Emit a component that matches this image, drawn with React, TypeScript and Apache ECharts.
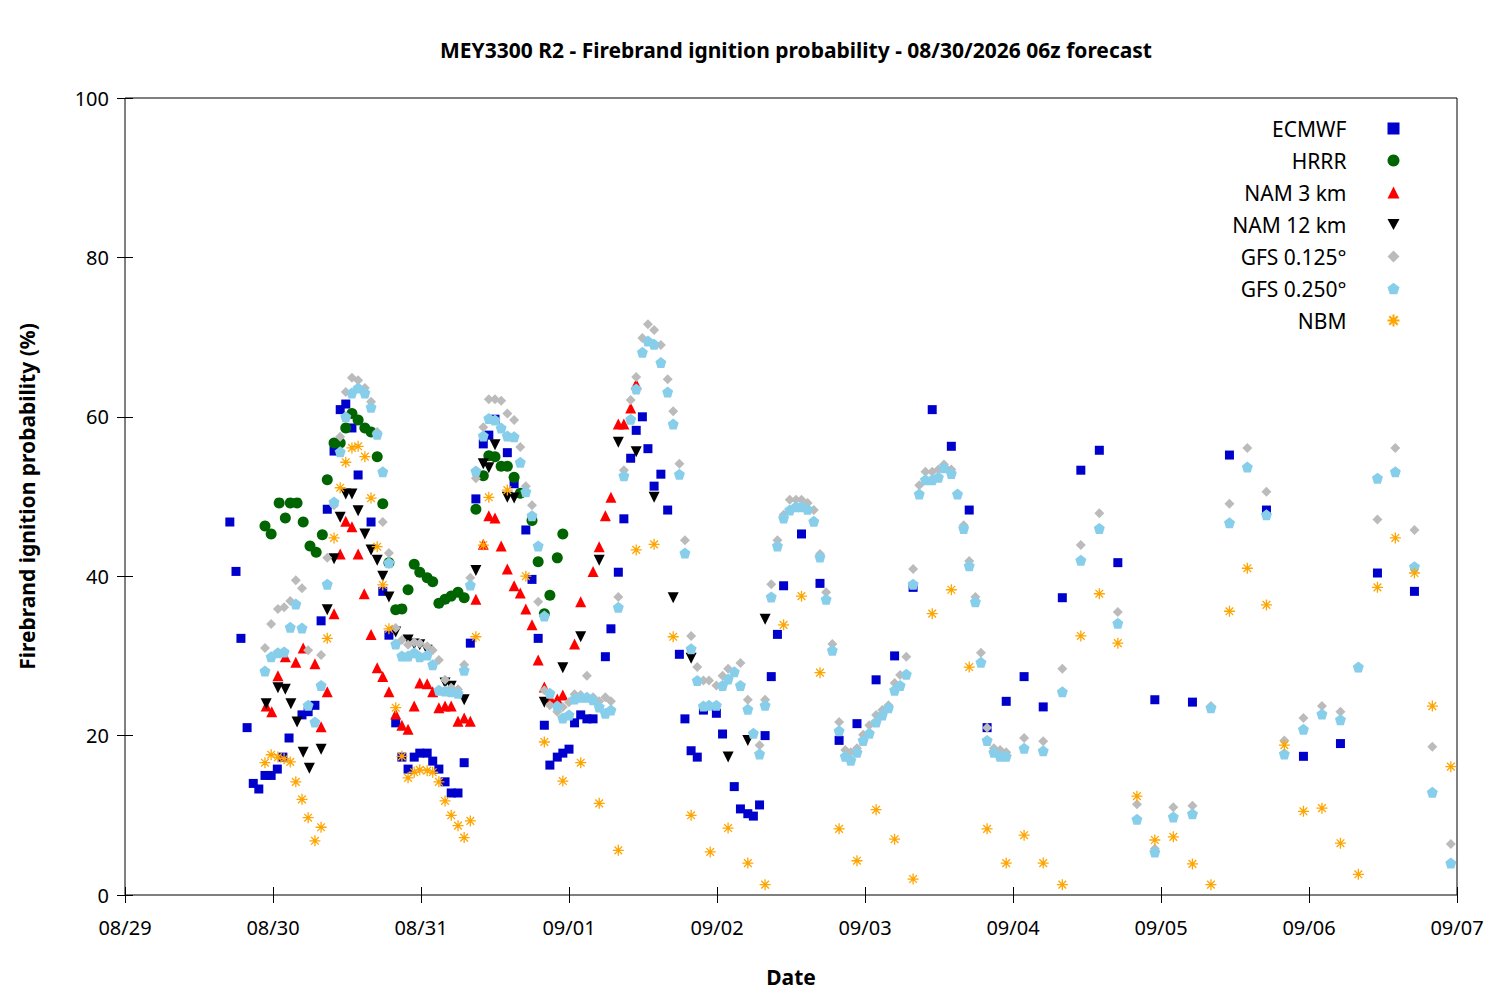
import React, { useEffect, useRef } from "react";
import * as echarts from "echarts";

// x = hours since 08/29 00z, y = probability (%)
const dateLabels = ["08/29", "08/30", "08/31", "09/01", "09/02", "09/03", "09/04", "09/05", "09/06", "09/07"];

const ecmwf = [[17,46.8],[18,40.6],[18.8,32.2],[19.8,21],[20.8,14],[21.7,13.3],[22.7,15],[23.7,15],[24.7,15.8],[25.6,17.3],[26.6,19.7],[28.7,22.6],[29.7,23],[30.8,23.8],[31.8,34.4],[32.8,48.4],[33.9,55.7],[34.9,60.9],[35.8,61.6],[36.8,58.6],[37.8,52.7],[39.9,46.8],[41.8,38.1],[42.8,32.6],[43.9,21.6],[44.9,17.3],[45.9,15.8],[46.9,17.3],[47.8,17.8],[49,17.8],[49.9,16.8],[50.9,15.8],[51.9,14.2],[52.9,12.8],[54,12.8],[55,16.6],[56,31.6],[56.9,49.7],[58.1,56.6],[59,57.7],[60,59.7],[62,55.5],[63.1,51.6],[65,45.8],[66,39.6],[67,32.2],[68,21.3],[68.9,16.3],[70.1,17.3],[71,17.8],[72,18.3],[72.9,21.6],[73.9,22.6],[74.9,22.1],[75.9,22.1],[77.9,29.9],[78.8,33.4],[80,40.5],[80.9,47.2],[82,54.8],[82.9,58.3],[83.9,60],[84.8,56],[85.8,51.3],[86.9,52.8],[88,48.3],[89.9,30.2],[90.8,22.1],[91.8,18.1],[92.8,17.3],[93.8,23.2],[95.9,22.8],[96.9,20.2],[98.8,13.6],[99.8,10.8],[101,10.2],[101.9,9.9],[102.9,11.3],[103.8,20],[104.8,27.4],[105.8,32.7],[106.8,38.8],[109.7,45.3],[112.7,39.1],[115.8,19.4],[118.7,21.5],[121.8,27],[124.8,30],[127.8,38.6],[130.9,60.9],[134,56.3],[136.9,48.3],[139.8,21],[142.9,24.3],[145.8,27.4],[148.9,23.6],[152,37.3],[155,53.3],[158,55.8],[161,41.7],[167,24.5],[173.1,24.2],[179.1,55.2],[185.1,48.3],[191.1,17.4],[197.1,19],[203.1,40.4],[209.1,38.1]];

const hrrr = [[22.7,46.3],[23.7,45.3],[25,49.2],[26,47.3],[26.8,49.2],[27.9,49.2],[28.9,46.8],[30,43.8],[31,43],[32,45.2],[32.8,52.1],[33.9,56.7],[34.9,56.7],[35.8,58.6],[36.8,60.4],[37.8,59.6],[38.9,58.6],[39.9,58.1],[40.9,55],[41.8,49.1],[42.8,41.7],[43.9,35.8],[44.9,35.9],[45.9,38.3],[46.9,41.5],[47.8,40.5],[49,39.8],[49.9,39.3],[50.9,36.6],[51.9,37.1],[52.9,37.5],[54,38],[55,37.3],[56.9,48.4],[58.1,52.6],[59,55.1],[60,55],[61,53.8],[62,53.8],[63.1,52.4],[64.1,50.4],[66,47],[67,41.8],[68,35.3],[68.9,37.6],[70.1,42.3],[71,45.3]];

const nam3 = [[22.9,23.7],[23.8,23],[24.8,27.5],[26,29.9],[27.7,29.2],[28.9,31],[30.8,29],[31.8,21.1],[32.8,25.5],[33.9,35.3],[34.9,42.8],[35.8,46.9],[36.8,46.2],[37.8,42.8],[38.8,37.8],[39.9,32.7],[40.9,28.5],[41.8,27.4],[42.8,25.5],[43.9,22.7],[44.9,21.3],[45.9,20.8],[46.9,23.7],[47.8,26.6],[49,26.5],[49.9,25.5],[50.9,23.5],[51.9,23.7],[52.9,23.7],[54,21.8],[55,22.2],[56,21.8],[56.9,37.1],[58.1,44],[59,47.6],[60,47.3],[61,43.8],[62,40.9],[63.1,38.8],[64.1,37.9],[65,35.9],[66,33.9],[67,29.5],[68,26.1],[68.9,24.8],[70.1,24.6],[71,25.1],[72.9,31.5],[73.9,36.8],[75.9,40.6],[76.9,43.7],[77.9,47.6],[78.8,49.9],[80,59.1],[80.9,59.1],[82,61.1],[82.9,64.1]];

const nam12 = [[22.9,24],[24.8,26],[26,25.8],[26.9,24],[27.9,21.7],[28.9,17.9],[29.9,15.9],[31.8,18.3],[32.8,35.8],[33.9,42.2],[34.9,47.4],[35.8,50.3],[36.8,50.3],[37.8,48.2],[38.9,45.3],[39.9,43.3],[40.9,42],[41.8,40],[42.8,37.4],[43.9,33],[45.9,32],[46.9,31.5],[47.8,31.4],[49,30.7],[51.9,26.6],[52.9,26.2],[55,24.5],[56.9,40.7],[58.1,54.1],[59,53.6],[60,56.5],[62,49.9],[63.1,49.8],[68,24.2],[71,28.5],[73.9,32.4],[76.9,42],[80,56.8],[82.9,55.6],[85.8,49.9],[88.9,37.3],[91.8,29.7],[97.8,17.3],[101,19.4],[103.8,34.6]];

const gfs125 = [[22.7,31],[23.7,34],[24.8,35.9],[25.8,36.1],[26.8,36.9],[27.7,39.5],[28.7,38.5],[29.7,30.7],[31.8,30.1],[32.8,42.3],[33.9,48.9],[34.9,57.5],[35.8,63.1],[36.8,64.9],[37.8,64.6],[38.9,63.6],[39.9,61.9],[40.9,58.1],[41.8,46.8],[42.8,42.9],[43.9,33.5],[44.9,32],[45.9,31.4],[46.9,31.7],[47.8,31.6],[49,31.2],[49.9,30.7],[50.9,29.5],[51.9,27],[52.9,26],[54,25.8],[55,28.9],[56,39.8],[56.9,52.3],[58.1,58.7],[59,62.2],[60,62.2],[61,62],[62,60.4],[63.1,59.6],[64.1,56.2],[65,51.3],[66,48.9],[67,36.8],[68,25.7],[68.9,23.8],[70.1,23],[71,23.6],[72,24.2],[72.9,25.2],[73.9,25.1],[74.9,27.5],[75.9,24.8],[76.9,24.3],[77.9,24.8],[78.8,24.3],[80,37.4],[80.9,53.3],[82,62.1],[82.9,65],[83.9,69.9],[84.8,71.6],[85.8,70.9],[86.9,69],[88,64.7],[88.9,60.7],[89.9,54.1],[90.8,44.5],[91.8,32.5],[92.8,28.6],[93.8,26.9],[94.7,26.9],[95.9,26.3],[96.9,27.5],[97.8,28.4],[99.8,29.1],[101,24.5],[102.9,18.8],[103.8,24.5],[104.8,39],[105.8,44.5],[106.8,47.7],[107.8,49.6],[108.8,49.6],[109.7,49.6],[110.7,49.2],[111.7,48.3],[112.7,42.8],[113.7,38],[114.7,31.5],[115.8,21.7],[116.8,18.2],[117.7,17.9],[118.7,18.4],[119.7,20.1],[120.7,21.3],[121.8,22.6],[122.8,23.2],[123.8,23.8],[124.8,26.6],[125.7,27.6],[126.7,29.9],[127.8,40.9],[128.8,51.4],[129.8,53.1],[130.9,53.1],[131.9,53.4],[132.8,54],[134,53.4],[135,50.3],[136,46.4],[136.9,41.9],[137.9,37.4],[138.8,30.4],[139.8,21],[140.9,18.4],[141.9,18.2],[142.9,17.9],[145.8,19.7],[148.9,19.3],[152,28.4],[155,43.9],[158,47.9],[161,35.5],[164.1,11.4],[167,5.8],[170,11],[173.1,11.2],[176.1,23.7],[179.1,49.1],[182,56.1],[185.1,50.6],[188,19.4],[191.1,22.2],[194.1,23.7],[197.1,23],[200,28.5],[203.1,47.1],[206,56.1],[209.1,45.8],[212,18.6],[215,6.4]];

const gfs250 = [[22.7,28.1],[23.7,29.9],[24.8,30.4],[25.8,30.5],[26.8,33.6],[27.7,36.5],[28.7,33.5],[29.7,23.8],[30.8,21.7],[31.8,26.3],[32.8,39],[33.9,49.3],[34.9,55.6],[35.8,60],[36.8,63],[37.8,63.6],[38.9,63],[39.9,61.2],[40.9,57.8],[41.8,53.1],[42.8,41.7],[43.9,31.5],[44.9,30],[45.9,30],[46.9,30.4],[47.8,29.9],[49,30.1],[49.9,28.9],[50.9,25.7],[51.9,25.6],[52.9,25.5],[54,25.3],[55,28.2],[56,38.9],[56.9,53.2],[58.1,57.6],[59,59.8],[60,59.6],[61,58.6],[62,57.6],[63.1,57.5],[64.1,54.3],[65,50.6],[66,47.6],[67,43.8],[68,35],[68.9,25.3],[70.1,23.7],[71,22.2],[72,22.6],[72.9,24.6],[73.9,24.8],[74.9,24.8],[75.9,24.5],[76.9,23.6],[77.9,22.8],[78.8,23.2],[80,36.1],[80.9,52.6],[82,59.7],[82.9,63.5],[83.9,68.1],[84.8,69.5],[85.8,69.1],[86.9,66.8],[88,63.1],[88.9,59.1],[89.9,52.8],[90.8,42.9],[91.8,30.9],[92.8,26.9],[93.8,23.7],[94.7,23.8],[95.9,23.8],[96.9,26.3],[97.8,27.1],[98.8,28],[99.8,26.3],[101,23.3],[101.9,20.3],[102.9,17.7],[103.8,23.8],[104.8,37.4],[105.8,43.8],[106.8,47.3],[107.8,48.3],[108.8,48.7],[109.7,48.7],[110.7,48.4],[111.7,46.9],[112.7,42.4],[113.7,37.1],[114.7,30.7],[115.8,20.6],[116.8,17.4],[117.7,16.9],[118.7,17.9],[119.7,19.4],[120.7,20.3],[121.8,21.7],[122.8,22.6],[123.8,23.5],[124.8,25.7],[125.7,26.3],[126.7,27.7],[127.8,39],[128.8,50.3],[129.8,52.1],[130.9,52.1],[131.9,52.4],[132.8,53.6],[134,52.9],[135,50.3],[136,46],[136.9,41.3],[137.9,36.8],[138.8,29.2],[139.8,19.4],[140.9,17.9],[141.9,17.4],[142.9,17.4],[145.8,18.4],[148.9,18.1],[152,25.5],[155,42],[158,46],[161,34.1],[164.1,9.5],[167,5.4],[170,9.8],[173.1,10.2],[176.1,23.5],[179.1,46.7],[182,53.7],[185.1,47.7],[188,17.7],[191.1,20.8],[194.1,22.7],[197.1,22],[200,28.6],[203.1,52.3],[206,53.1],[209.1,41.2],[212,12.9],[215,4]];

const nbm = [[22.7,16.6],[23.7,17.6],[24.8,17.3],[25.8,17.1],[26.8,16.7],[27.7,14.2],[28.7,12],[29.7,9.7],[30.8,6.8],[31.8,8.5],[32.8,32.2],[33.9,44.8],[34.9,51.1],[35.8,54.3],[36.8,56.1],[37.8,56.3],[38.9,55],[39.9,49.8],[40.9,43.7],[41.8,38.9],[42.8,33.4],[43.9,23.5],[44.9,17.4],[45.9,14.7],[46.9,15.4],[47.8,15.7],[49,15.6],[49.9,15.4],[50.9,14.2],[51.9,11.8],[52.9,10],[54,8.7],[55,7.2],[56,9.3],[56.9,32.4],[58.1,43.9],[59,49.9],[62,50.8],[65,40],[68,19.2],[71,14.3],[73.9,16.6],[76.9,11.5],[80,5.6],[82.9,43.3],[85.8,44],[88.9,32.4],[91.8,10],[94.9,5.4],[97.8,8.4],[101,4],[103.8,1.3],[106.8,33.9],[109.7,37.5],[112.7,27.9],[115.8,8.3],[118.7,4.3],[121.8,10.7],[124.8,7],[127.8,2],[130.9,35.3],[134,38.3],[136.9,28.6],[139.8,8.3],[142.9,4],[145.8,7.5],[148.9,4],[152,1.3],[155,32.5],[158,37.8],[161,31.6],[164.1,12.4],[167,6.9],[170,7.3],[173.1,3.9],[176.1,1.3],[179.1,35.6],[182,41],[185.1,36.4],[188,18.8],[191.1,10.5],[194.1,10.9],[197.1,6.5],[200,2.6],[203.1,38.6],[206,44.8],[209.1,40.4],[212,23.7],[215,16.1]];

const FONT = "Noto Sans";
const DOWN = "path://M-5,-4L5,-4L0,5Z";
const PENT = "path://M0,-5L4.76,-1.55L2.94,4.05L-2.94,4.05L-4.76,-1.55Z";
const STAR = "path://M0,-5L0,5M-5,0L5,0M-3.5,-3.5L3.5,3.5M-3.5,3.5L3.5,-3.5";

export default function App() {
  const ref = useRef<HTMLDivElement>(null);
  useEffect(() => {
    const chart = echarts.init(ref.current!, null, { renderer: "svg" });
    const mk = (name: string, data: number[][], symbol: string, size: number, color: string, extra: any = {}) => ({
      name, type: "scatter", data, symbol, symbolSize: size,
      itemStyle: { color, opacity: 1, ...extra }, emphasis: { disabled: true },
    });
    const hiddenAxis = () => ({
      axisLabel: { show: false }, splitLine: { show: false },
      axisLine: { show: false }, axisTick: { inside: true, length: 8, lineStyle: { color: "#000" } },
    });
    chart.setOption({
      animation: false,
      textStyle: { fontFamily: FONT },
      title: {
        text: "MEY3300 R2 - Firebrand ignition probability - 08/30/2026 06z forecast",
        left: 783, top: 26, textAlign: "center",
        textStyle: { fontFamily: FONT, fontSize: 21, fontWeight: "bold", color: "#000" },
      },
      grid: { left: 117, right: 35, top: 90, bottom: 97, show: true, borderColor: "#000", borderWidth: 1 },
      legend: {
        orient: "vertical", right: 85, top: 105, align: "right", itemGap: 11, itemWidth: 12, itemHeight: 12,
        textStyle: { fontFamily: FONT, fontSize: 21, color: "#000", padding: [0, 36, 0, 0] },
        data: ["ECMWF", "HRRR", "NAM 3 km", "NAM 12 km", "GFS 0.125°", "GFS 0.250°", "NBM"],
      },
      xAxis: [
        {
          type: "value", min: 0, max: 216, interval: 24,
          name: "Date", nameLocation: "middle", nameGap: 71,
          nameTextStyle: { fontFamily: FONT, fontSize: 21, fontWeight: "bold", color: "#000" },
          axisLabel: { fontFamily: FONT, fontSize: 20, color: "#000", margin: 22, formatter: (v: number) => dateLabels[Math.round(v / 24)] },
          axisLine: { show: false }, splitLine: { show: false },
          axisTick: { inside: true, length: 8, lineStyle: { color: "#000" } },
        },
        { type: "value", min: 0, max: 216, interval: 24, position: "top", ...hiddenAxis() },
      ],
      yAxis: [
        {
          type: "value", min: 0, max: 100, interval: 20,
          name: "Firebrand ignition probability (%)", nameLocation: "middle", nameGap: 88,
          nameTextStyle: { fontFamily: FONT, fontSize: 21, fontWeight: "bold", color: "#000" },
          axisLabel: { fontFamily: FONT, fontSize: 20, color: "#000", margin: 16 },
          axisLine: { show: false }, splitLine: { show: false },
          axisTick: { inside: true, length: 8, lineStyle: { color: "#000" } },
        },
        { type: "value", min: 0, max: 100, interval: 20, position: "right", ...hiddenAxis() },
      ],
      series: [
        mk("ECMWF", ecmwf, "rect", 9, "#0000cc"),
        mk("HRRR", hrrr, "circle", 11, "#006400"),
        mk("NAM 3 km", nam3, "triangle", 11, "#ff0000"),
        mk("NAM 12 km", nam12, DOWN, 11, "#000000"),
        mk("GFS 0.125°", gfs125, "diamond", 10, "#bbbbbb"),
        mk("GFS 0.250°", gfs250, PENT, 11, "#87ceeb"),
        mk("NBM", nbm, STAR, 11, "none", { borderColor: "#ffa500", borderWidth: 1.3 }),
      ],
    });
    return () => chart.dispose();
  }, []);
  return <div ref={ref} style={{ width: 1484, height: 984 }} />;
}
